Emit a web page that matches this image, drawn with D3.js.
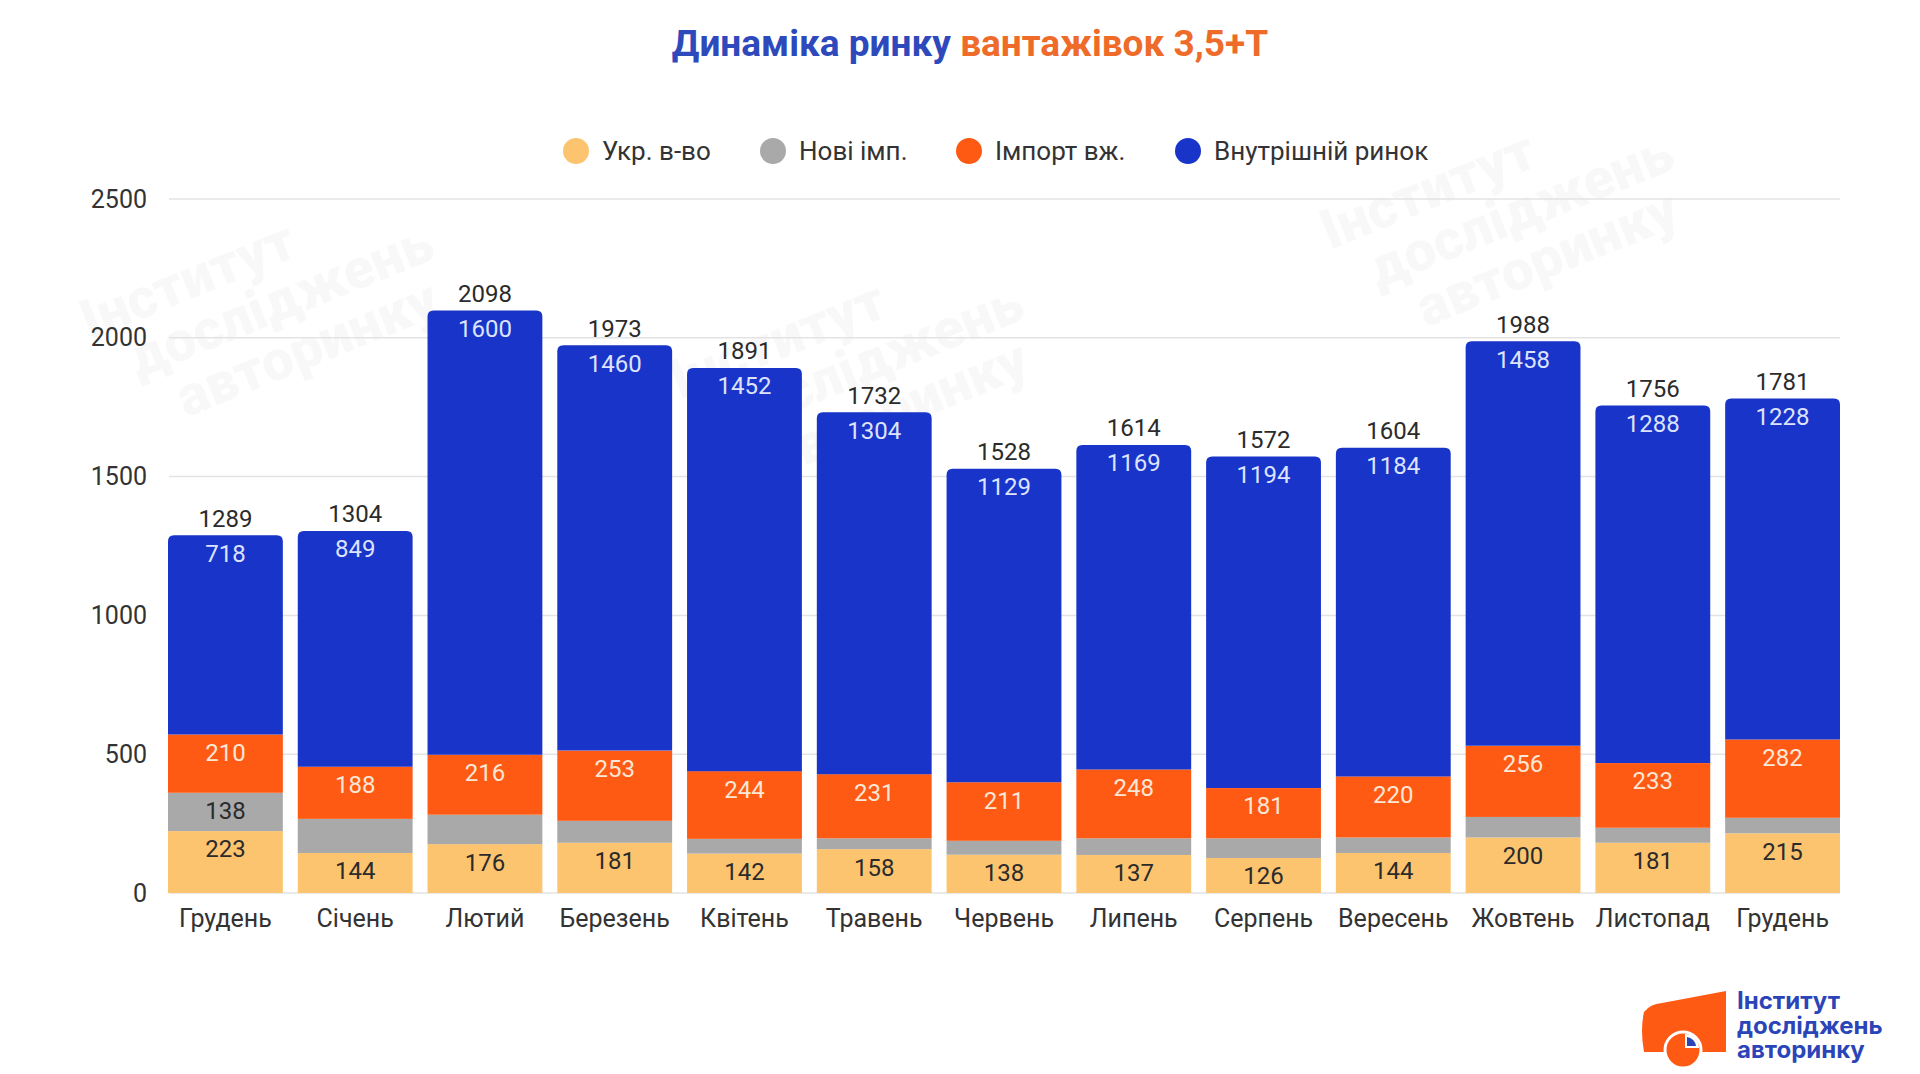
<!DOCTYPE html>
<html><head><meta charset="utf-8">
<script src="https://cdn.jsdelivr.net/npm/d3@7"></script>
<style>
html,body{margin:0;padding:0;background:#fff;}
svg{display:block;font-family:Roboto,"Noto Sans",sans-serif;}
</style></head>
<body>
<svg id="chart" width="1920" height="1074"></svg>
<script>
const categories = ["Грудень","Січень","Лютий","Березень","Квітень","Травень","Червень","Липень","Серпень","Вересень","Жовтень","Листопад","Грудень"];
const ukrProd   = [223,144,176,181,142,158,138,137,126,144,200,181,215];
const newImport = [138,123,106,79,53,39,50,60,71,56,74,54,56];
const usedImport= [210,188,216,253,244,231,211,248,181,220,256,233,282];
const domestic  = [718,849,1600,1460,1452,1304,1129,1169,1194,1184,1458,1288,1228];
const totals    = [1289,1304,2098,1973,1891,1732,1528,1614,1572,1604,1988,1756,1781];
const seriesNames = ["Укр. в-во","Нові імп.","Імпорт вж.","Внутрішній ринок"];
const yTicks = [0,500,1000,1500,2000,2500];

const colors = ["#FDC46F","#A9A9A9","#FF5A14","#1934C8"];
const labelColors = ["#2b2b2b","#2b2b2b","#FBE7D6","#DDE3FF"];
const minLabel = [0,130,0,0];
const seriesVals = [ukrProd,newImport,usedImport,domestic];

const svg = d3.select("#chart");

// watermark
const wm = svg.append("g").attr("fill","#000").attr("fill-opacity",0.028)
  .attr("font-family","Roboto, sans-serif").attr("font-weight",900).attr("font-size",56);
const wmPos = [[90,340],[680,400],[1330,250]];
wmPos.forEach(p=>{
  const t = wm.append("text").attr("transform",`translate(${p[0]},${p[1]}) rotate(-22)`);
  ["Інститут","досліджень","авторинку"].forEach((s,i)=>t.append("tspan").attr("x",i*30).attr("dy",i?54:0).text(s));
});

// Title
const title = svg.append("text").attr("x",970).attr("y",56).attr("text-anchor","middle")
  .attr("font-size",37).attr("font-weight",700);
title.append("tspan").attr("fill","#2E49BC").text("Динаміка ринку ");
title.append("tspan").attr("fill","#EE6B2A").text("вантажівок 3,5+Т");

// Legend
const legX = [576,773,969,1188];
const leg = svg.append("g");
seriesNames.forEach((n,i)=>{
  leg.append("circle").attr("cx",legX[i]).attr("cy",151).attr("r",13).attr("fill",colors[i]);
  leg.append("text").attr("x",legX[i]+26).attr("y",151).attr("dy","0.35em")
    .attr("font-size",26).attr("fill","#333").text(n);
});

// Scales
const x = d3.scaleBand().domain(d3.range(categories.length)).range([168,1840]).paddingInner(0.115).paddingOuter(0);
const y = d3.scaleLinear().domain([0,2500]).range([893,199]);

// grid
const grid = svg.append("g");
yTicks.forEach(t=>{
  grid.append("line").attr("x1",169).attr("x2",1840).attr("y1",y(t)).attr("y2",y(t))
    .attr("stroke","#e3e3e3").attr("stroke-width",1.5);
});
const yAxis = d3.axisLeft(y).tickValues(yTicks).tickFormat(d3.format("d")).tickSize(0).tickPadding(0);
const ga = svg.append("g").attr("transform","translate(147,0)").call(yAxis);
ga.select(".domain").remove();
ga.selectAll("text").attr("font-size",25).attr("fill","#333").attr("font-family","Roboto, sans-serif");

// stacked bars
const stackData = categories.map((c,i)=>({i, s0:ukrProd[i], s1:newImport[i], s2:usedImport[i], s3:domestic[i]}));
const stack = d3.stack().keys(["s0","s1","s2","s3"])(stackData);
const bw = x.bandwidth();
const R = 6;
stack.forEach((layer,k)=>{
  const g = svg.append("g");
  layer.forEach(d=>{
    const i = d.data.i;
    const x0 = x(i), y0 = y(d[0]), y1 = y(d[1]);
    if(k===3){
      const p = d3.path();
      p.moveTo(x0,y0); p.lineTo(x0,y1+R); p.quadraticCurveTo(x0,y1,x0+R,y1);
      p.lineTo(x0+bw-R,y1); p.quadraticCurveTo(x0+bw,y1,x0+bw,y1+R); p.lineTo(x0+bw,y0); p.closePath();
      g.append("path").attr("d",p.toString()).attr("fill",colors[k]);
    } else {
      g.append("rect").attr("x",x0).attr("y",y1).attr("width",bw).attr("height",y0-y1).attr("fill",colors[k]);
    }
  });
});
// labels
stack.forEach((layer,k)=>{
  layer.forEach(d=>{
    const i = d.data.i; const v = seriesVals[k][i];
    if (v < minLabel[k]) return;
    svg.append("text").attr("x",x(i)+bw/2).attr("y",y(d[1])+18).attr("dy","0.35em")
      .attr("text-anchor","middle").attr("font-size",24).attr("fill",labelColors[k]).text(v);
  });
});
totals.forEach((t,i)=>{
  svg.append("text").attr("x",x(i)+bw/2).attr("y",y(t)-17).attr("dy","0.35em")
    .attr("text-anchor","middle").attr("font-size",24).attr("fill","#2b2b2b").text(t);
});

// x labels
categories.forEach((c,i)=>{
  svg.append("text").attr("x",x(i)+bw/2).attr("y",918).attr("dy","0.35em")
    .attr("text-anchor","middle").attr("font-size",25).attr("fill","#333").text(c);
});

// logo
const logo = svg.append("g");
logo.append("path").attr("d","M1644,1012 Q1650,1004 1662,1003 L1726,991 L1726,1052 L1700,1052 L1668,1052 L1644,1052 Q1640,1030 1644,1012 Z").attr("fill","#FF5A14");
logo.append("circle").attr("cx",1683).attr("cy",1050).attr("r",18).attr("fill","#FF5A14").attr("stroke","#fff").attr("stroke-width",3);
logo.append("path").attr("d","M1685,1048 L1685,1034 A14,14 0 0 1 1699,1048 Z").attr("fill","#fff");
logo.append("path").attr("d","M1687,1046 L1687,1037 A10,10 0 0 1 1696,1046 Z").attr("fill","#2B45B8");
const lt = logo.append("text").attr("font-family","Inter, 'Open Sans', sans-serif").attr("font-weight",700)
  .attr("font-size",24).attr("fill","#2B45B8");
["Інститут","досліджень","авторинку"].forEach((s,i)=>lt.append("tspan").attr("x",1737).attr("y",1009+i*24.5).text(s));
</script>
</body></html>
